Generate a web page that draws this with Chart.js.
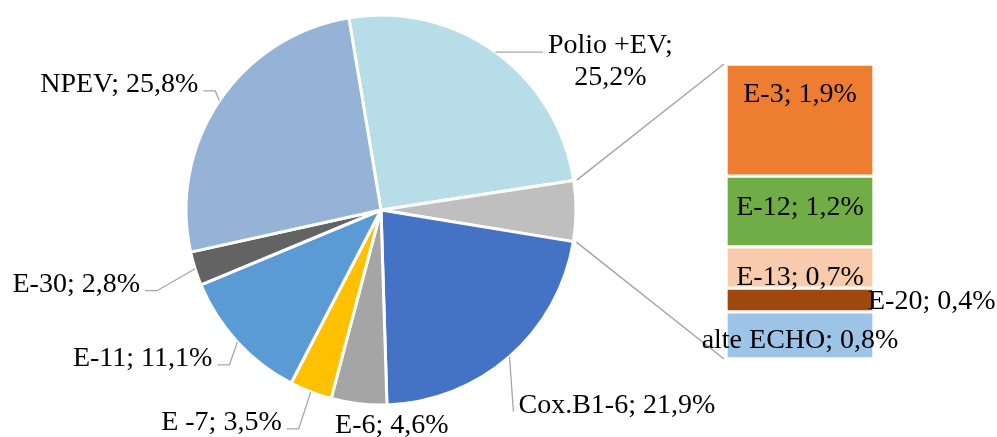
<!DOCTYPE html>
<html>
<head>
<meta charset="utf-8">
<script src="https://cdn.jsdelivr.net/npm/chart.js@4.4.0/dist/chart.umd.min.js"></script>
<style>
html,body{margin:0;padding:0;background:#fff;}
#wrap{position:relative;width:997px;height:437px;}
#wrap canvas{position:absolute;left:0;top:0;}
</style>
</head>
<body>
<div id="wrap">
<canvas id="pie" width="997" height="437"></canvas>
<canvas id="bar" width="997" height="437"></canvas>
</div>
<script>
// breakdown shown in the bar (top to bottom)
const barLabels = ["E-3","E-12","E-13","E-20","alte ECHO"];
const barValues = [1.9,1.2,0.7,0.4,0.8];
const barColors = ["#ED7D31","#70AD47","#F8CBAD","#9E480E","#9DC3E6"];

// pie slices, clockwise; slice 1 is the part split into the bar
const pieLabels = ["Polio +EV","Andere","Cox.B1-6","E-6","E -7","E-11","E-30","NPEV"];
const otherValue = Math.round(barValues.reduce((a,b)=>a+b,0)*10)/10;
const pieValues = [25.2,otherValue,21.9,4.6,3.5,11.1,2.8,25.8];
const pieColors = ["#B7DEE8","#BFBFBF","#4472C4","#A5A5A5","#FFC000","#5B9BD5","#636363","#95B3D7"];

const FONT = '28px "Liberation Serif", "Times New Roman", serif';
const LINE = "#A6A6A6";

// label placement relative to the slice edge midpoint
const pieLabelPlace = [
{dx:115,dy:1,align:"center",leader:true,wrap:true},
null,
{dx:9,dy:56,align:"left",leader:true},
{dx:33,dy:29,align:"center",leader:false},
{dx:-29,dy:38,align:"right",leader:true},
{dx:-25,dy:24,align:"right",leader:true},
{dx:-55,dy:23,align:"right",leader:true},
{dx:-21,dy:-9,align:"right",leader:true}
];
const barLabelPlace = [
{pos:"top",dy:38},
{pos:"center",dy:3.5},
{pos:"center",dy:17.5},
{pos:"right",dx:-6,dy:9},
{pos:"center",dy:12.6}
];

function fmt(v){ return v.toFixed(1).replace(".",",")+"%"; }

const pieLabelPlugin = {
id:"pieLabels",
afterDatasetsDraw(chart){
let ctx=chart.ctx;
let arcs=chart.getDatasetMeta(0).data;
ctx.save();
ctx.font=FONT; ctx.fillStyle="#000"; ctx.textBaseline="alphabetic";
ctx.strokeStyle=LINE; ctx.lineWidth=1.3;
arcs.forEach((arc,i)=>{
let p=pieLabelPlace[i]; if(!p) return;
let mid=(arc.startAngle+arc.endAngle)/2;
let ax=arc.x+arc.outerRadius*Math.cos(mid), ay=arc.y+arc.outerRadius*Math.sin(mid);
let lines=p.wrap?[pieLabels[i]+";",fmt(pieValues[i])]:[pieLabels[i]+"; "+fmt(pieValues[i])];
let tx=ax+p.dx, ty=ay+p.dy;
ctx.textAlign=p.align;
lines.forEach((t,k)=>ctx.fillText(t,tx,ty+k*32));
if(p.leader){
let w=ctx.measureText(lines[0]).width;
let sx=p.align=="right"?tx+5:p.align=="left"?tx-5:tx-w/2-5;
let sy=ty-1;
ctx.beginPath(); ctx.moveTo(ax,ay);
if(Math.abs(ax-sx)>14) ctx.lineTo(sx+(ax>sx?12:-12),sy);
ctx.lineTo(sx,sy); ctx.stroke();
}
});
ctx.restore();
}
};

let pieChart=new Chart(document.getElementById("pie"),{
type:"pie",
data:{labels:pieLabels,datasets:[{data:pieValues,backgroundColor:pieColors,borderColor:"#fff",borderWidth:3,radius:195}]},
options:{
responsive:false,animation:false,rotation:-9.5,
layout:{padding:{left:0,right:235,top:0,bottom:17}},
plugins:{legend:{display:false},tooltip:{enabled:false}}
},
plugins:[pieLabelPlugin]
});

const barPlugin = {
id:"barExtras",
beforeDatasetsDraw(chart){
// connector lines from the split slice to the bar
let ctx=chart.ctx;
let arc=pieChart.getDatasetMeta(0).data[1];
let el=chart.getDatasetMeta(0).data[0];
let left=el.x-el.width/2-2;
let y=chart.scales.y;
let top=y.getPixelForValue(otherValue), bottom=y.getPixelForValue(0);
let r=arc.outerRadius+3;
ctx.save(); ctx.strokeStyle=LINE; ctx.lineWidth=1.5;
ctx.beginPath();
ctx.moveTo(arc.x+r*Math.cos(arc.startAngle),arc.y+r*Math.sin(arc.startAngle)); ctx.lineTo(left,top);
ctx.moveTo(arc.x+r*Math.cos(arc.endAngle),arc.y+r*Math.sin(arc.endAngle)); ctx.lineTo(left,bottom);
ctx.stroke(); ctx.restore();
},
afterDatasetsDraw(chart){
let ctx=chart.ctx;
ctx.save(); ctx.font=FONT; ctx.fillStyle="#000"; ctx.textBaseline="alphabetic";
barLabels.forEach((lab,i)=>{
let di=barLabels.length-1-i;
let el=chart.getDatasetMeta(di).data[0];
let p=barLabelPlace[i];
let text=lab+"; "+fmt(barValues[i]);
let top=Math.min(el.y,el.base), bot=Math.max(el.y,el.base);
if(p.pos=="top"){ ctx.textAlign="center"; ctx.fillText(text,el.x,top+p.dy); }
else if(p.pos=="right"){ ctx.textAlign="left"; ctx.fillText(text,el.x+el.width/2+p.dx,(top+bot)/2+p.dy); }
else { ctx.textAlign="center"; ctx.fillText(text,el.x,(top+bot)/2+p.dy); }
});
ctx.restore();
}
};

// stacked from the bottom up
let barSets=barLabels.map((l,i)=>({label:l,data:[barValues[i]],backgroundColor:barColors[i],borderColor:"#fff",borderWidth:2,borderSkipped:false,barPercentage:1,categoryPercentage:1})).reverse();

let barChart=new Chart(document.getElementById("bar"),{
type:"bar",
data:{labels:[""],datasets:barSets},
options:{
responsive:false,animation:false,
layout:{padding:{left:726,right:123,top:64,bottom:78}},
scales:{x:{stacked:true,display:false},y:{stacked:true,display:false,min:0,max:otherValue}},
plugins:{legend:{display:false},tooltip:{enabled:false}}
},
plugins:[barPlugin]
});
</script>
</body>
</html>
